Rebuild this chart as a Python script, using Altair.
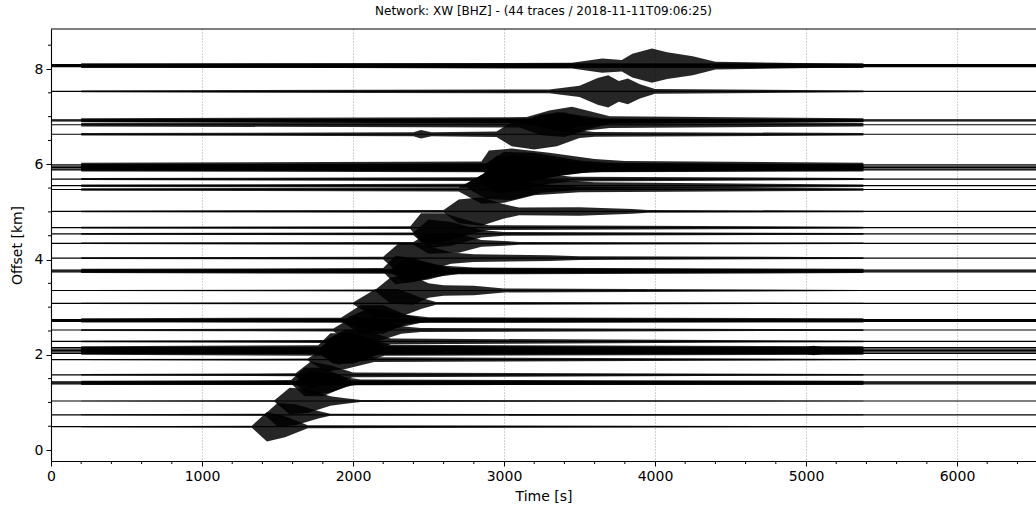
import altair as alt
import pandas as pd

TITLE = "Network: XW [BHZ] - (44 traces / 2018-11-11T09:06:25)"

# Trace offsets [km] (top to bottom)
offsets = [8.09, 8.07, 8.05, 7.53, 6.93, 6.91, 6.83, 6.63, 5.99, 5.96, 5.93,
           5.90, 5.88, 5.69, 5.55, 5.47, 5.01, 4.67, 4.54, 4.34, 4.03, 3.78,
           3.76, 3.74, 3.35, 3.08, 2.74, 2.72, 2.70, 2.52, 2.28, 2.15, 2.12,
           2.09, 2.06, 2.03, 1.90, 1.58, 1.43, 1.41, 1.39, 1.03, 0.74, 0.49]

# Background wiggle half-amplitude of each trace [km]
noise = [0.03, 0.035, 0.03, 0.02, 0.035, 0.03, 0.035, 0.025, 0.04, 0.035, 0.035,
         0.03, 0.03, 0.02, 0.025, 0.025, 0.015, 0.018, 0.018, 0.015, 0.018, 0.025,
         0.025, 0.025, 0.012, 0.012, 0.025, 0.025, 0.02, 0.018, 0.015, 0.03, 0.03,
         0.03, 0.03, 0.03, 0.012, 0.015, 0.025, 0.025, 0.025, 0.006, 0.012, 0.01]

# Envelope of the arrivals on each trace: (time [s], half-amplitude [km])
packets = [
    [],
    [(3450, 0.06), (3650, 0.15), (3780, 0.12), (3850, 0.25), (3980, 0.36), (4080, 0.28), (4250, 0.2), (4400, 0.08)],
    [],
    [(3300, 0.04), (3500, 0.12), (3620, 0.28), (3690, 0.34), (3760, 0.22), (3820, 0.27), (3900, 0.15), (4000, 0.05)],
    [(3150, 0.06), (3300, 0.2), (3450, 0.28), (3550, 0.2), (3700, 0.08)],
    [(3200, 0.05), (3350, 0.18), (3500, 0.12), (3650, 0.05)],
    [(3100, 0.06), (3250, 0.22), (3400, 0.26), (3550, 0.12), (3700, 0.07)],
    [(2400, 0.04), (2450, 0.09), (2520, 0.04), (2950, 0.06), (3050, 0.25), (3200, 0.32), (3350, 0.25), (3500, 0.08), (3600, 0.05)],
    [(2850, 0.07), (2900, 0.3), (3050, 0.34), (3300, 0.25), (3600, 0.12), (3800, 0.08)],
    [(2880, 0.06), (3000, 0.3), (3200, 0.28), (3500, 0.12), (3700, 0.07)],
    [(2900, 0.06), (3050, 0.26), (3300, 0.2), (3600, 0.08)],
    [(2950, 0.05), (3100, 0.2), (3400, 0.1), (3650, 0.06)],
    [(2870, 0.05), (2950, 0.3), (3150, 0.25), (3400, 0.1), (3550, 0.05)],
    [(2830, 0.04), (2950, 0.3), (3100, 0.25), (3300, 0.1), (3450, 0.05)],
    [(2750, 0.04), (2880, 0.28), (3050, 0.3), (3250, 0.15), (3600, 0.07)],
    [(2700, 0.04), (2850, 0.3), (3000, 0.28), (3200, 0.12), (3500, 0.06)],
    [(2600, 0.03), (2700, 0.25), (2850, 0.3), (3000, 0.15), (3100, 0.08), (3500, 0.09), (3850, 0.05), (3950, 0.03)],
    [(2380, 0.03), (2450, 0.3), (2600, 0.3), (2800, 0.12), (2900, 0.05)],
    [(2400, 0.03), (2500, 0.3), (2650, 0.25), (2850, 0.08), (3000, 0.04)],
    [(2400, 0.03), (2500, 0.22), (2700, 0.2), (2850, 0.07), (3000, 0.05), (3100, 0.03)],
    [(2200, 0.03), (2300, 0.3), (2450, 0.3), (2650, 0.12), (2800, 0.08), (3300, 0.06), (3500, 0.04)],
    [(2200, 0.04), (2280, 0.3), (2400, 0.25), (2550, 0.1), (2800, 0.05)],
    [(2250, 0.04), (2350, 0.25), (2500, 0.18), (2650, 0.06)],
    [(2280, 0.04), (2400, 0.2), (2550, 0.1), (2700, 0.05)],
    [(2150, 0.02), (2250, 0.28), (2400, 0.3), (2500, 0.15), (2600, 0.11), (2800, 0.1), (3000, 0.04)],
    [(2000, 0.02), (2150, 0.3), (2300, 0.3), (2450, 0.12), (2550, 0.03)],
    [(1920, 0.04), (2050, 0.3), (2200, 0.3), (2350, 0.1), (2500, 0.05)],
    [(1950, 0.04), (2100, 0.25), (2300, 0.15), (2450, 0.05)],
    [],
    [(1870, 0.03), (2000, 0.28), (2150, 0.25), (2320, 0.08), (2450, 0.04)],
    [(1820, 0.03), (1950, 0.25), (2100, 0.22), (2250, 0.06)],
    [(1770, 0.05), (1850, 0.3), (2000, 0.3), (2150, 0.15), (2250, 0.06)],
    [(1790, 0.05), (1880, 0.28), (2050, 0.25), (2200, 0.07)],
    [(1800, 0.05), (1900, 0.3), (2050, 0.2), (2200, 0.06), (4950, 0.05), (5050, 0.1), (5150, 0.05)],
    [(1780, 0.05), (1870, 0.25), (2000, 0.25), (2150, 0.06)],
    [(1800, 0.05), (1900, 0.22), (2100, 0.15), (2210, 0.05)],
    [(1700, 0.02), (1820, 0.25), (1950, 0.2), (2140, 0.05)],
    [(1620, 0.03), (1720, 0.28), (1850, 0.2), (2000, 0.05)],
    [(1590, 0.04), (1680, 0.3), (1800, 0.3), (1950, 0.1), (2050, 0.05)],
    [(1620, 0.04), (1720, 0.25), (1850, 0.2), (1990, 0.05)],
    [],
    [(1480, 0.015), (1580, 0.28), (1700, 0.25), (1850, 0.1), (1950, 0.06), (2050, 0.02)],
    [(1420, 0.02), (1500, 0.25), (1620, 0.22), (1770, 0.08), (1850, 0.02)],
    [(1330, 0.02), (1430, 0.31), (1550, 0.22), (1700, 0.03)],
]

NOISE_START = 200     # s, where the recorded wiggles begin
NOISE_END = 5380      # s, where they stop
TRACE_START = 0       # s
TRACE_END = 6600      # s
X_MAX = 6523
Y_MIN, Y_MAX = -0.23, 8.84

x_major = [0, 1000, 2000, 3000, 4000, 5000, 6000]
x_minor = [200, 400, 600, 800, 1200, 1400, 1600, 1800, 2200, 2400,
           2600, 2800, 3200, 3400, 3600, 3800, 4200, 4400, 4600, 4800,
           5200, 5400, 5600, 5800, 6200, 6400]
y_major = [0, 2, 4, 6, 8]
y_minor = [0.5, 1, 1.5, 2.5, 3, 3.5, 4.5, 5, 5.5, 6.5, 7, 7.5, 8.5]

# ---- tables -------------------------------------------------------------
env_rows = []
for i, (off, n, pk) in enumerate(zip(offsets, noise, packets)):
    pts = [(NOISE_START, n)] + [(t, max(a, n)) for t, a in pk] + [(NOISE_END, n)]
    for t, a in pts:
        env_rows.append({"trace": i, "t": t, "hi": off + a, "lo": off - a})
df_env = pd.DataFrame(env_rows)

df_lines = pd.DataFrame({
    "trace": list(range(len(offsets))),
    "offset": offsets,
    "t0": [TRACE_START] * len(offsets),
    "t1": [TRACE_END] * len(offsets),
})

x_scale = alt.Scale(domain=[0, X_MAX], nice=False, zero=False)
y_scale = alt.Scale(domain=[Y_MIN, Y_MAX], nice=False, zero=False)

x_axis = alt.Axis(values=x_major, title="Time [s]", orient="bottom", grid=True,
                  gridColor="#9a9a9a", gridDash=[1, 2], gridWidth=0.9,
                  format="d", labelFlush=False, titlePadding=6)
y_axis = alt.Axis(values=y_major, title="Offset [km]", orient="left",
                  grid=False, format="d", titlePadding=10)

lines = alt.Chart(df_lines).mark_rule(color="black", strokeWidth=1.2, clip=True).encode(
    x=alt.X("t0:Q", scale=x_scale, axis=x_axis),
    x2="t1:Q",
    y=alt.Y("offset:Q", scale=y_scale, axis=y_axis),
)

env = alt.Chart(df_env).mark_area(color="black", opacity=0.85, clip=True).encode(
    x=alt.X("t:Q", scale=x_scale, axis=x_axis),
    y=alt.Y("hi:Q", scale=y_scale, axis=y_axis),
    y2="lo:Q",
    detail="trace:N",
)

xminor = alt.Chart(pd.DataFrame({"v": x_minor})).mark_rule(color="black", strokeWidth=1).encode(
    x=alt.X("v:Q", scale=x_scale, axis=x_axis),
    y=alt.value(432), y2=alt.value(435),
)
yminor = alt.Chart(pd.DataFrame({"v": y_minor})).mark_rule(color="black", strokeWidth=1).encode(
    y=alt.Y("v:Q", scale=y_scale, axis=y_axis),
    x=alt.value(0), x2=alt.value(-3),
)

top = alt.Chart(pd.DataFrame({"k": [0]})).mark_rule(color="black", strokeWidth=1.1).encode(
    x=alt.value(0), x2=alt.value(985), y=alt.value(0)
)

chart = alt.layer(lines, env, xminor, yminor, top).properties(
    width=985, height=432,
    autosize=alt.AutoSizeParams(type="none"),
    padding={"left": 51, "top": 29, "right": 0, "bottom": 48},
    title=alt.Title(TITLE, anchor="middle"),
).configure_view(stroke=None).configure_axis(
    labelFont="DejaVu Sans", labelFontSize=14, labelColor="black",
    titleFont="DejaVu Sans", titleFontSize=14, titleFontWeight="normal", titleColor="black",
    domainColor="black", domainWidth=1.1, tickColor="black", tickSize=5, tickWidth=1,
    labelPadding=3,
).configure_title(
    font="DejaVu Sans", fontSize=12, fontWeight="normal", color="black", offset=10,
)

chart.save("out.html", embed_options={"renderer": "svg", "actions": False})
